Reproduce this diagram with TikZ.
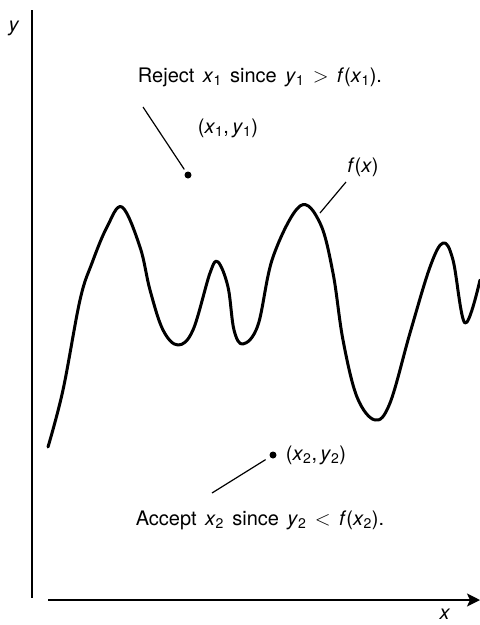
\documentclass[tikz,border=0pt]{standalone}
\usepackage{fontspec}
\setmainfont{TeX Gyre Heros}
\usetikzlibrary{positioning,arrows.meta}
\newcommand{\vsub}[2]{\textit{#1}\textsubscript{#2}}
\newcommand{\lblfont}{\fontsize{20}{24}\selectfont\spaceskip=0.42em plus 0.1em\relax}
\tikzset{
  lbl/.style={font={\lblfont},inner sep=1pt},
  curve/.style={line width=3pt,line join=round,line cap=round},
  pointer/.style={line width=1.2pt},
  axis/.style={line width=1.6pt},
  sample/.style={circle,fill=black,inner sep=0pt,minimum size=7pt},
}

\begin{document}
\begin{tikzpicture}[x=1pt,y=1pt,>={Stealth[length=13pt,width=13pt,inset=3pt]}]
  \useasboundingbox (0,0) rectangle (480,-625);
  % axes
  \coordinate (ytop) at (32,-10);
  \coordinate (ybot) at (32,-598);
  \coordinate (xleft) at (48,-600);
  \coordinate (xright) at (480,-600);
  \draw[axis] (ytop) -- (ybot);
  \draw[axis,->] (xleft) -- (xright);
  \node[lbl] (ylab) at (14,-28) {\textit{y}};
  \node[lbl] (xlab) at (445,-614) {\textit{x}};
  % the function
  \draw[curve] plot[smooth,tension=0.6] coordinates {
    (48,-447) (63,-390) (80,-300) (92,-263) (107,-227) (122,-207) (140,-247)
    (150,-290) (163,-330) (178,-345) (193,-330) (210,-273) (218,-262) (228,-287)
    (234,-330) (243,-344) (258,-325) (273,-257) (300,-206) (320,-223) (333,-273)
    (343,-340) (357,-397) (375,-420) (390,-403) (410,-333) (430,-267) (443,-243)
    (453,-260) (465,-323) (480,-280)};
  \node[lbl] (flab) at (363,-167) {\textit{f}(\textit{x})};
  \coordinate (ftip) at (320,-213);
  \draw[pointer] (346,-182) -- (ftip);
  % rejected sample
  \node[lbl] (reject) at (260,-77) {Reject \vsub{x}{1} since \vsub{y}{1} $>$ \textit{f}(\vsub{x}{1}).};
  \node[sample] (p1) at (188,-175) {};
  \node[lbl] (p1lab) at (228,-128) {(\vsub{x}{1},\,\vsub{y}{1})};
  \coordinate (r1) at (143,-107);
  \draw[pointer,shorten >=3pt] (r1) -- (p1);
  % accepted sample
  \node[sample] (p2) at (273,-455) {};
  \node[lbl,right=8pt of p2] (p2lab) {(\vsub{x}{2},\,\vsub{y}{2})};
  \node[lbl] (accept) at (260,-520) {Accept \vsub{x}{2} since \vsub{y}{2} $<$ \textit{f}(\vsub{x}{2}).};
  \coordinate (a2) at (212,-493);
  \draw[pointer,shorten >=5pt] (a2) -- (p2);
\end{tikzpicture}
\end{document}
